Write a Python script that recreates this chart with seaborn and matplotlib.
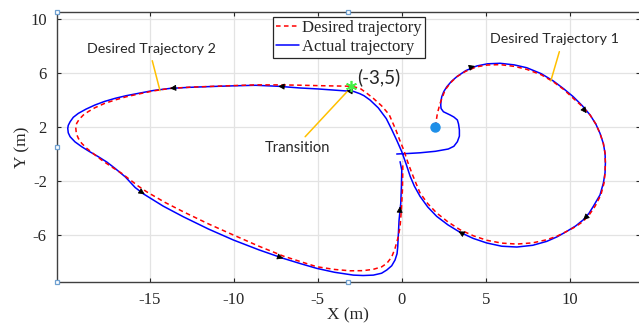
import numpy as np
import pandas as pd
import seaborn as sns
import matplotlib
matplotlib.use("Agg")
import matplotlib.pyplot as plt

# ---- desired path: trajectory 1 (spiral from the start point) then trajectory 2 (big loop)
desired_x = [2.0, 2.06, 2.12, 2.28, 2.58, 2.9, 3.27, 3.8, 4.46, 5.1, 5.85, 6.7, 7.44, 8.3,
             9.02, 9.65, 10.21, 10.75, 11.21, 11.55, 11.8, 12.0, 12.1, 12.12, 12.1, 12.04,
             11.85, 11.5, 11.2, 10.81, 10.35, 9.82, 9.25, 8.63, 7.8, 6.85, 5.95, 5.06, 4.25,
             3.47, 2.75, 2.08, 1.55, 1.09, 0.85, 0.6, 0.35, 0.12, -0.12, -0.35, -0.75, -1.2,
             -1.69, -2.1, -2.48, -3.0,
             -4.0, -4.86, -6.2, -7.44, -8.7, -10.0, -11.3, -12.6, -13.79, -14.8, -15.68, -16.4,
             -17.07, -17.7, -18.26, -18.65, -18.95, -19.2, -19.35, -19.4, -19.37, -19.25, -19.05,
             -18.75, -18.35, -17.86, -17.3, -16.67, -16.15, -15.68, -15.18, -14.1, -13.0, -11.5,
             -10.02, -8.5, -7.05, -6.0, -5.06, -4.0, -3.08, -2.3, -1.69, -1.2, -0.89, -0.6, -0.4,
             -0.22, -0.1, -0.02, 0.04, 0.06, 0.06]
desired_y = [2.0, 2.5, 2.99, 3.73, 4.72, 5.25, 5.7, 6.1, 6.44, 6.57, 6.6, 6.47, 6.25, 5.85,
             5.33, 4.75, 4.1, 3.5, 2.87, 2.2, 1.51, 0.75, 0.03, -0.69, -1.4, -2.17,
             -3.05, -3.9, -4.45, -5.0, -5.4, -5.75, -6.1, -6.37, -6.6, -6.69, -6.62, -6.41, -6.07,
             -5.63, -5.05, -4.39, -3.7, -2.91, -2.2, -1.43, -0.6, 0.27, 1.0, 1.76, 2.9, 3.55,
             4.1, 4.5, 4.84, 5.0,
             5.02, 5.04, 5.08, 5.1, 5.1, 5.05, 4.99, 4.93, 4.84, 4.65, 4.42, 4.22,
             3.98, 3.72, 3.41, 3.13, 2.87, 2.55, 2.25, 1.88, 1.5, 1.14, 0.77,
             0.4, 0.0, -0.47, -0.95, -1.45, -1.95, -2.4, -2.82, -3.6, -4.3, -5.2,
             -6.02, -6.85, -7.58, -8.0, -8.37, -8.57, -8.67, -8.66, -8.56, -8.38, -8.12, -7.65, -7.01,
             -6.2, -5.41, -4.1, -2.69, -1.21, -0.6]

# ---- actual path followed by the vehicle
actual_x = [-0.3, 0.4, 1.09, 2.0, 2.77, 3.1, 3.31, 3.43, 3.43, 3.38, 3.31, 3.1, 2.88, 2.48,
            2.34, 2.32, 2.34, 2.38, 2.5, 2.68, 2.95, 3.27, 3.8, 4.46, 5.1, 5.85, 6.7, 7.44,
            8.3, 9.02, 9.65, 10.21, 10.75, 11.21, 11.55, 11.8, 12.0, 12.1, 12.12, 12.1, 12.0,
            11.8, 11.4, 11.15, 10.81, 10.35, 9.82, 9.25, 8.63, 7.8, 6.85, 5.95, 5.06, 4.25,
            3.47, 2.75, 2.08, 1.55, 1.09, 0.75, 0.5, 0.24, 0.0, -0.3, -0.6, -0.92, -1.4,
            -1.89, -2.25, -2.5, -2.88, -3.2, -3.87, -5.0, -6.05, -7.4, -8.7, -10.0, -11.3,
            -12.6, -13.79, -14.8, -15.68, -16.4, -17.07, -17.7, -18.26, -18.8, -19.25, -19.55,
            -19.74, -19.85, -19.88, -19.85, -19.74, -19.45, -19.05, -18.6, -18.06, -17.55,
            -17.07, -16.45, -15.87, -15.38, -14.2, -13.0, -11.5, -10.02, -8.5, -7.05, -6.0,
            -5.06, -4.0, -2.88, -2.3, -1.69, -1.2, -0.89, -0.6, -0.4, -0.28, -0.24, -0.2,
            -0.16, -0.06, -0.02, 0.0, -0.1]
actual_y = [-0.02, 0.02, 0.07, 0.18, 0.35, 0.55, 0.89, 1.3, 1.76, 2.2, 2.5, 2.72, 2.87, 3.11,
            3.35, 3.61, 3.95, 4.22, 4.6, 4.96, 5.35, 5.7, 6.15, 6.5, 6.66, 6.7, 6.58, 6.37,
            5.93, 5.39, 4.8, 4.22, 3.55, 2.87, 2.2, 1.51, 0.75, 0.03, -0.69, -1.4, -2.17,
            -3.05, -3.9, -4.4, -4.89, -5.35, -5.75, -6.15, -6.49, -6.78, -6.91, -6.85, -6.61, -6.27,
            -5.82, -5.27, -4.64, -3.95, -3.16, -2.4, -1.67, -0.69, 0.15, 1.0, 1.8, 2.6, 3.4,
            3.98, 4.3, 4.45, 4.62, 4.64, 4.7, 4.8, 4.87, 5.0, 5.07, 5.03, 4.98,
            4.92, 4.84, 4.68, 4.47, 4.3, 4.1, 3.87, 3.61, 3.3, 2.99, 2.7,
            2.37, 2.1, 1.88, 1.55, 1.26, 0.88, 0.52, 0.17, -0.22, -0.62,
            -1.08, -1.72, -2.5, -2.97, -3.88, -4.67, -5.58, -6.39, -7.12, -7.75, -8.15,
            -8.49, -8.78, -8.99, -9.02, -8.99, -8.85, -8.61, -8.3, -7.87, -7.4, -6.89, -5.9,
            -4.91, -3.67, -2.4, -1.21, -0.59]

# direction arrows placed along the actual path
arrow_x = [-13.8, -7.35, -15.3, -7.05, -0.1, 4.36, 11.0, 10.8, 3.37, -3.3]
arrow_y = [4.84, 5.0, -3.0, -7.75, -3.9, 6.5, 3.0, -4.9, -5.75, 4.65]

start_point = (2.0, 2.0)
transition_point = (-3.0, 5.0)

xticks = [-15, -10, -5, 0, 5, 10]
yticks = [10, 6, 2, -2, -6]

sns.set_theme(style="whitegrid")
serif = ["Liberation Serif", "DejaVu Serif"]
plt.rcParams["font.family"] = serif
plt.rcParams["axes.unicode_minus"] = False

fig = plt.figure(figsize=(6.39, 3.26), dpi=100)
ax = fig.add_axes([56.5 / 639, 44 / 326, 583.5 / 639, 270.3 / 326])
ax.set_facecolor("white")

actual_df = pd.DataFrame({"x": actual_x, "y": actual_y})
desired_df = pd.DataFrame({"x": desired_x, "y": desired_y})

sns.lineplot(data=actual_df, x="x", y="y", sort=False, estimator=None, ax=ax,
             color="#0000FF", lw=1.1, label="Actual trajectory", zorder=3)
sns.lineplot(data=desired_df, x="x", y="y", sort=False, estimator=None, ax=ax,
             color="#FF0000", lw=1.1, dashes=(3, 2.2), label="Desired trajectory", zorder=4)

# arrowheads oriented along the local direction of the actual path
pts = np.column_stack([actual_x, actual_y])
for px, py in zip(arrow_x, arrow_y):
    d = np.hypot(pts[:, 0] - px, pts[:, 1] - py)
    i = int(np.argmin(d))
    i0, i1 = max(i - 1, 0), min(i + 1, len(pts) - 1)
    v = pts[i1] - pts[i0]
    v = v / np.hypot(*v)
    ax.annotate("", xy=(px, py), xytext=(px - 0.35 * v[0], py - 0.35 * v[1]),
                arrowprops=dict(arrowstyle="-|>", color="black", lw=0.6,
                                mutation_scale=9, shrinkA=0, shrinkB=0), zorder=5)

# start point and transition marker
ax.plot(*start_point, "o", color="#1E8FE8", ms=6.5, zorder=6)
ax.plot(*transition_point, marker=(6, 2, 0), color="#44EE44", ms=8, mew=1.2, zorder=6)

# callouts
gold = "#FFC000"
callout_font = ["Lato", "DejaVu Sans"]
ax.plot([-14.85, -14.39], [6.89, 4.67], color=gold, lw=1.1, zorder=5)
ax.text(-14.92, 7.76, "Desired Trajectory 2", ha="center", va="center",
        fontsize=10.3, family=callout_font)
ax.plot([9.38, 8.87], [7.56, 5.39], color=gold, lw=1.1, zorder=5)
ax.text(9.08, 8.47, "Desired Trajectory 1", ha="center", va="center",
        fontsize=10.3, family=callout_font)
ax.plot([-5.75, -3.26], [1.26, 4.59], color=gold, lw=1.1, zorder=5)
ax.text(-6.22, 0.41, "Transition", ha="center", va="center",
        fontsize=10.6, family=callout_font)
ax.text(-1.35, 5.7, "(-3,5)", ha="center", va="center",
        fontsize=13.5, family=callout_font)

ax.set_xlim(-20.55, 14.18)
ax.set_ylim(-9.5, 10.52)
ax.set_xticks(xticks)
ax.set_yticks(yticks)
ax.grid(True, color="#e3e3e3", lw=0.9)
ax.tick_params(direction="in", length=3, width=0.8, colors="#262626",
               top=True, right=True, bottom=True, left=True, labelsize=12, pad=7)
for lbl in ax.get_xticklabels() + ax.get_yticklabels():
    lbl.set_family(serif)
for s in ax.spines.values():
    s.set_visible(True)
    s.set_color("#404040")
    s.set_linewidth(1.0)

ax.set_xlabel("X (m)", fontsize=12.5, color="#262626", labelpad=0, family=serif)
ax.set_ylabel("Y (m)", fontsize=12.5, color="#262626", labelpad=0, family=serif)

handles, labels = ax.get_legend_handles_labels()
order = [labels.index("Desired trajectory"), labels.index("Actual trajectory")]
leg = ax.legend([handles[k] for k in order], [labels[k] for k in order],
                loc="upper left", bbox_to_anchor=(0.3705, 0.9815), borderaxespad=0,
                fancybox=False, frameon=True, edgecolor="#262626", framealpha=1,
                fontsize=12, handlelength=1.4, handletextpad=0.15, borderpad=0.2,
                labelspacing=0.15, prop={"family": serif, "size": 12})
leg.get_frame().set_linewidth(0.9)

# selection handles around the axes box
for hx, hy in [(0, 0), (0, 0.5), (0, 1), (0.5, 1), (0.5, 0)]:
    ax.plot(hx, hy, "s", transform=ax.transAxes, clip_on=False, ms=3.5,
            mfc="white", mec="#6FA0D0", mew=0.9, zorder=10)

fig.savefig("out.png", dpi=100)
